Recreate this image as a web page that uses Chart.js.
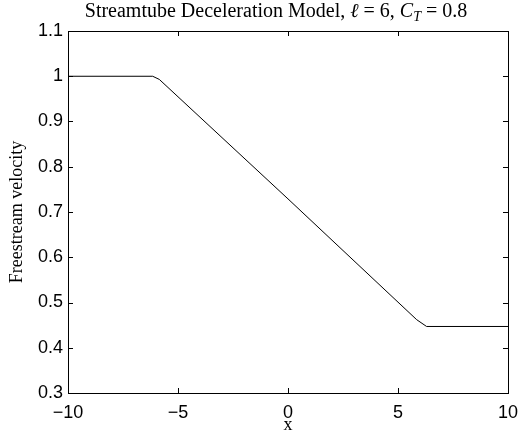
<!DOCTYPE html>
<html>
<head>
<meta charset="utf-8">
<script src="https://cdn.jsdelivr.net/npm/chart.js@4"></script>
<style>
html,body{margin:0;padding:0;background:#fff;}
#wrap{width:527px;height:436px;}
</style>
</head>
<body>
<div id="wrap"><canvas id="c" width="527" height="436"></canvas></div>
<script>
// Data
const xValues = [-10, -6.15, -5.85, 0, 5.85, 6.3, 10];
const velocity = [1, 1, 0.993, 0.729, 0.462, 0.447, 0.447];
const xTicks = [-10, -5, 0, 5, 10];
const xTickLabels = ['\u221210', '\u22125', '0', '5', '10'];
const yTicks = [0.3, 0.4, 0.5, 0.6, 0.7, 0.8, 0.9, 1.0, 1.1];
const yTickLabels = ['0.3', '0.4', '0.5', '0.6', '0.7', '0.8', '0.9', '1', '1.1'];

const points = xValues.map((x, i) => ({x: x, y: velocity[i]}));

const serif = '"Liberation Serif", "DejaVu Serif", serif';
const sans = '"Liberation Sans", Arial, sans-serif';

const frame = {
  id: 'frame',
  afterDraw(chart) {
    const {ctx, chartArea: a, scales} = chart;
    ctx.save();
    ctx.strokeStyle = '#000';
    ctx.lineWidth = 1;
    ctx.strokeRect(Math.round(a.left) + 0.5, Math.round(a.top) + 0.5,
                   Math.round(a.right - a.left), Math.round(a.bottom - a.top));
    const L = 5;
    ctx.beginPath();
    xTicks.forEach(v => {
      const px = Math.round(scales.x.getPixelForValue(v)) + 0.5;
      ctx.moveTo(px, a.bottom); ctx.lineTo(px, a.bottom - L);
      ctx.moveTo(px, a.top); ctx.lineTo(px, a.top + L);
    });
    yTicks.forEach(v => {
      const py = Math.round(scales.y.getPixelForValue(v)) + 0.5;
      ctx.moveTo(a.left, py); ctx.lineTo(a.left + L, py);
      ctx.moveTo(a.right, py); ctx.lineTo(a.right - L, py);
    });
    ctx.stroke();

    // Title with italic symbols and subscript
    const size = 20;
    const parts = [
      {t: 'Streamtube Deceleration Model, ', f: `${size}px ${serif}`, dy: 0},
      {t: '\u2113', f: `italic ${size}px ${serif}`, dy: 0},
      {t: ' = 6, ', f: `${size}px ${serif}`, dy: 0},
      {t: 'C', f: `italic ${size}px ${serif}`, dy: 0},
      {t: 'T', f: `italic ${Math.round(size * 0.7)}px ${serif}`, dy: 4},
      {t: ' = 0.8', f: `${size}px ${serif}`, dy: 0}
    ];
    let total = 0;
    parts.forEach(p => { ctx.font = p.f; p.w = ctx.measureText(p.t).width; total += p.w; });
    let x = 276 - total / 2;
    ctx.fillStyle = '#000';
    ctx.textBaseline = 'alphabetic';
    ctx.textAlign = 'left';
    parts.forEach(p => { ctx.font = p.f; ctx.fillText(p.t, x, 17 + p.dy); x += p.w; });
    ctx.restore();
  }
};

new Chart(document.getElementById('c'), {
  type: 'line',
  data: {
    datasets: [{
      data: points,
      borderColor: '#000',
      borderWidth: 1,
      pointRadius: 0,
      fill: false,
      tension: 0
    }]
  },
  options: {
    responsive: false,
    animation: false,
    devicePixelRatio: 1,
    layout: {padding: {left: 0, right: 19, top: 31, bottom: 0}},
    plugins: {legend: {display: false}, tooltip: {enabled: false}, title: {display: false}},
    scales: {
      x: {
        type: 'linear', min: -10, max: 10,
        afterBuildTicks: s => { s.ticks = xTicks.map(v => ({value: v})); },
        afterFit: s => { s.height = 43; },
        grid: {display: false, drawTicks: false},
        border: {display: false},
        ticks: {
          color: '#000', font: {family: sans, size: 18}, padding: 9, maxRotation: 0,
          callback: (v) => xTickLabels[xTicks.indexOf(v)]
        },
        title: {display: true, text: 'x', color: '#000', font: {family: serif, size: 18}, padding: {top: -6, bottom: 0}}
      },
      y: {
        type: 'linear', min: 0.3, max: 1.1,
        afterBuildTicks: s => { s.ticks = yTicks.map(v => ({value: v})); },
        afterFit: s => { s.width = 68; },
        grid: {display: false, drawTicks: false},
        border: {display: false},
        ticks: {
          color: '#000', font: {family: sans, size: 18}, padding: 5,
          callback: (v) => { const i = yTicks.findIndex(t => Math.abs(t - v) < 1e-9); return yTickLabels[i]; }
        },
        title: {display: true, text: 'Freestream velocity', color: '#000', font: {family: serif, size: 18}, padding: {top: 6, bottom: 0}}
      }
    }
  },
  plugins: [frame]
});
</script>
</body>
</html>
